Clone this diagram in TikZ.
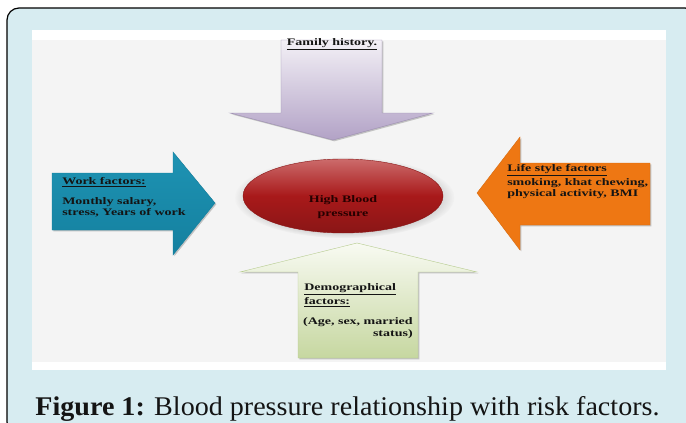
\documentclass[tikz,border=0pt]{standalone}
\usepackage{fontspec}
\setmainfont{Liberation Serif}
\usetikzlibrary{shapes.geometric,shadows}
\definecolor{framebg}{HTML}{D7ECF1}
\definecolor{panelgrey}{HTML}{F4F4F4}
\definecolor{txtdark}{HTML}{141414}
\definecolor{famtop}{HTML}{F3F0F6}
\definecolor{fambot}{HTML}{B2A2C6}
\definecolor{famline}{HTML}{9C8EB0}
\definecolor{worktop}{HTML}{1E93B3}
\definecolor{workbot}{HTML}{14809F}
\definecolor{lifeor}{HTML}{EE7713}
\definecolor{demotop}{HTML}{F8FAF2}
\definecolor{demobot}{HTML}{C6D7A0}
\definecolor{demoline}{HTML}{B6CB8E}
\definecolor{hbptop}{HTML}{CC6B6B}
\definecolor{hbpmid}{HTML}{A8191A}
\definecolor{hbpbot}{HTML}{8A1616}

\begin{document}
\begin{tikzpicture}[x=1pt,y=-1pt,
	lbl/.style={font=\fontsize{10}{11.5}\selectfont\bfseries, text=txtdark, xscale=1.4, inner sep=0pt, align=left},
	arrowshadow/.style={drop shadow={shadow xshift=1.3pt, shadow yshift=-1.3pt, opacity=0.35, fill=black!60}}]
			\useasboundingbox (0,0) rectangle (686,423);
			% frame and panel
			\draw[fill=framebg, line width=1.2pt, rounded corners=12pt] (7,8) rectangle (697,434);
			\fill[white] (32,30) rectangle (666,370);
			\fill[panelgrey] (32,40) rectangle (666,362);
			% family history, from the top
			\draw[famline, top color=famtop, bottom color=fambot, arrowshadow] (281,40) -- (382,40) -- (382,113) -- (433,113) -- (333,140) -- (230,113) -- (281,113) -- cycle;
			\node[lbl] (famtxt) at (332,44) {\underline{Family history.}};
			% work factors, from the left
			\draw[workbot, top color=worktop, bottom color=workbot, arrowshadow] (52,173) -- (173,173) -- (173,152) -- (215,203) -- (173,255) -- (173,230) -- (52,230) -- cycle;
			\node[lbl, anchor=west] (worktitle) at (62,182) {\underline{Work factors:}};
			\node[lbl, anchor=west] (worktxt) at (62,207.5) {Monthly salary,\\stress, Years of work};
			% life style factors, from the right
			\draw[lifeor!90!black, fill=lifeor, arrowshadow] (650,163) -- (520,163) -- (520,137) -- (477,193) -- (520,250) -- (520,225) -- (650,225) -- cycle;
			\node[lbl, anchor=west] (lifetitle) at (507,170.5) {\underline{Life style factors}};
			\node[lbl, anchor=west, font=\fontsize{10}{11}\selectfont\bfseries] (lifetxt) at (507,189) {smoking, khat chewing,\\physical activity, BMI};
			% demographical factors, from below
			\draw[demoline, top color=demotop, bottom color=demobot, arrowshadow] (357,243) -- (477,272) -- (418,272) -- (418,358) -- (298,358) -- (298,272) -- (240,272) -- cycle;
			\node[lbl, anchor=west, font=\fontsize{10}{14}\selectfont\bfseries] (demotitle) at (304,295) {\underline{Demographical}\\\underline{factors:}};
			\node[lbl, anchor=east, align=right, font=\fontsize{10}{12}\selectfont\bfseries] (demotxt) at (413,328) {(Age, sex, married\\status)};
			% high blood pressure
			\node[ellipse, draw=hbpbot, minimum width=200pt, minimum height=74pt, top color=hbptop, bottom color=hbpbot, middle color=hbpmid, circular drop shadow={shadow xshift=1.3pt, shadow yshift=-1.3pt, opacity=0.3}] (hbp) at (343,196) {};
			\node[lbl, align=center, font=\fontsize{10}{13.5}\selectfont\bfseries, text=black!85!red] (hbptxt) at (343,207) {High Blood\\pressure};
			% caption
			\node[anchor=base, font=\fontsize{27}{30}\selectfont, text=txtdark, xscale=1.04] (caption) at (347.5,415) {\textbf{Figure 1:} Blood pressure relationship with risk factors.};
		\end{tikzpicture}
\end{document}
